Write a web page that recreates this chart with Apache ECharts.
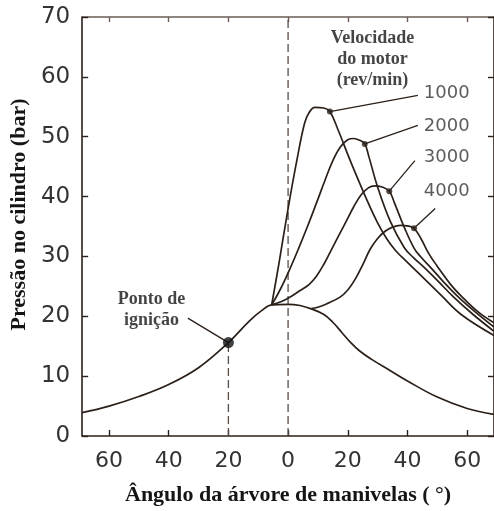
<!DOCTYPE html>
<html>
<head>
<meta charset="utf-8">
<script src="https://cdn.jsdelivr.net/npm/echarts@6/dist/echarts.min.js"></script>
<style>
  html, body { margin: 0; padding: 0; background: #ffffff; }
  #chart { width: 494px; height: 511px; }
</style>
</head>
<body>
<div id="chart"></div>
<script>
// Crank angle ticks (degrees, negative = before top dead centre)
const angleTicks = [-60, -40, -20, 0, 20, 40, 60];

// Motored cylinder pressure (no combustion), [crank angle, bar]
const motoringCurve = [
  [-69, 3.9], [-60, 5.0], [-50, 6.6], [-40, 8.6], [-30, 11.4], [-20, 15.6],
  [-13, 19.2], [-9, 20.9], [-5.5, 21.9], [0, 22.0], [4, 21.8], [8, 21.2],
  [12, 20.3], [15, 19.0], [18, 17.3], [21, 15.6], [24, 14.2], [28, 12.8],
  [34, 11.0], [40, 9.2], [50, 6.5], [60, 4.6], [69, 3.6]
];

// Firing pressure for each engine speed
const curve1000 = [
  [-5.5, 21.9], [-3, 29.0], [0, 38.0], [3, 46.2], [5.5, 52.2], [7, 54.0],
  [9, 54.9], [12, 54.8], [14, 54.2], [16.7, 51.2], [21, 45.8], [26.7, 39.1],
  [30, 35.6], [33, 33.0], [36, 31.0], [40, 29.0], [45, 26.6], [51.5, 23.4],
  [58, 20.3], [69, 16.8]
];
const curve2000 = [
  [-5.5, 21.9], [-2.5, 24.6], [0.5, 27.8], [3.5, 31.3], [6.5, 35.0], [9.5, 38.9],
  [12.5, 42.9], [15, 46.0], [17.5, 48.3], [20, 49.5], [22, 49.7], [24, 49.4],
  [25.7, 48.8], [27, 46.8], [30, 41.6], [34.3, 35.8], [38.9, 31.5], [42, 29.8],
  [45.5, 28.2], [50, 26.0], [55.5, 23.2], [62, 20.3], [69, 17.5]
];
const curve3000 = [
  [-5.5, 21.9], [-2, 22.5], [1, 23.3], [4, 24.3], [7, 25.3], [9.5, 26.7],
  [12, 28.7], [14.5, 31.1], [17, 33.5], [19.5, 35.9], [22, 38.3], [24.5, 40.3],
  [27, 41.5], [29, 41.8], [31.5, 41.6], [33.9, 40.9], [35.6, 39.0], [38.9, 34.9],
  [42.2, 31.4], [44.5, 29.9], [47.5, 28.3], [52, 25.8], [57.1, 23.2], [63, 20.6],
  [69, 18.2]
];
const curve4000 = [
  [7.8, 21.3], [10.5, 21.6], [13.4, 22.2], [17.4, 23.2], [20, 24.4], [22.5, 26.2],
  [25, 28.6], [27.5, 31.2], [30, 33.0], [32.5, 34.2], [35, 34.9], [37.6, 35.2],
  [40, 35.1], [42.2, 34.7], [44.5, 33.0], [47, 30.6], [49.8, 28.5], [55, 25.0],
  [58.8, 23.0], [64, 20.6], [69, 18.9]
];

const speedLabels = ['1000', '2000', '3000', '4000'];
const speedCurves = [curve1000, curve2000, curve3000, curve4000];
// crank angle where each callout touches its curve
const dotAngles = [14, 25.7, 33.9, 42.2];

const ignitionAngle = -20;
const ignitionPressure = 15.6;
const topDeadCentre = 0;
const pressureMax = 70;

// Callout placement, in axis units
const numberAnchors = [[45.5, 57.2], [45.5, 51.7], [45.5, 46.6], [45.5, 40.8]];
const leaderEnds = [[43.5, 56.9], [43.5, 51.9], [42.5, 46.0], [49.3, 38.0]];
const speedTitleAnchor = [28.3, 62.9];
const ignitionTextAnchor = [-45.8, 21.1];
const ignitionLeaderEnd = [-33.6, 19.7];

const INK = '#2b2019';
const DASH = '#5b4c42';
const NUM = '#333333';
const SERIF = '"Liberation Serif", "Times New Roman", serif';
const SANS = '"DejaVu Sans", sans-serif';

function pointAt(curve, angle) {
  return curve.find(p => p[0] === angle);
}

const curveStyle = { color: INK, width: 1.7 };

const series = [];

series.push({
  type: 'line', data: motoringCurve, smooth: 0.4, symbol: 'none',
  lineStyle: curveStyle, z: 3
});
speedCurves.forEach(c => {
  series.push({
    type: 'line', data: c, smooth: 0.4, symbol: 'none',
    lineStyle: curveStyle, z: 3
  });
});

// dashed verticals: top dead centre and ignition
series.push({
  type: 'line', data: [[topDeadCentre, 0], [topDeadCentre, pressureMax]],
  symbol: 'none', lineStyle: { color: DASH, width: 1.3, type: [8, 4] }, z: 2
});
series.push({
  type: 'line', data: [[ignitionAngle, 0], [ignitionAngle, ignitionPressure]],
  symbol: 'none', lineStyle: { color: DASH, width: 1.3, type: [8, 4] }, z: 2
});

// leader lines from each curve to its speed label
const dotPoints = speedCurves.map((c, i) => pointAt(c, dotAngles[i]));
dotPoints.forEach((p, i) => {
  series.push({
    type: 'line', data: [p, leaderEnds[i]], symbol: 'none',
    lineStyle: { color: INK, width: 1.3 }, z: 3
  });
});
series.push({
  type: 'line', data: [[ignitionAngle, ignitionPressure], ignitionLeaderEnd], symbol: 'none',
  lineStyle: { color: INK, width: 1.3 }, z: 3
});

// dots
series.push({
  type: 'scatter', data: dotPoints, symbolSize: 6,
  itemStyle: { color: INK }, z: 5
});
series.push({
  type: 'scatter', data: [[ignitionAngle, ignitionPressure]], symbolSize: 11,
  itemStyle: { color: '#111111' }, z: 5
});

// text callouts
series.push({
  type: 'scatter', symbolSize: 0, z: 6,
  data: speedLabels.map((s, i) => ({ value: numberAnchors[i], name: s })),
  label: {
    show: true, position: 'right', distance: 0, formatter: '{b}',
    fontFamily: SANS, fontSize: 18, color: NUM
  }
});
series.push({
  type: 'scatter', symbolSize: 0, z: 6,
  data: [
    { value: speedTitleAnchor, name: 'Velocidade\ndo motor\n(rev/min)' },
    { value: ignitionTextAnchor, name: 'Ponto de\nignição' }
  ],
  label: {
    show: true, position: 'inside', formatter: '{b}', align: 'center',
    fontFamily: SERIF, fontWeight: 'bold', fontSize: 18, lineHeight: 21, color: '#151515'
  }
});

const option = {
  animation: false,
  backgroundColor: '#ffffff',
  grid: { left: 80, right: -3, top: 17, bottom: 72, containLabel: false },
  xAxis: [
    {
      type: 'value', position: 'bottom', min: -69, max: 69,
      axisLine: { show: true, onZero: false, lineStyle: { color: INK, width: 1.6 } },
      axisTick: { show: true, inside: true, length: 6, customValues: angleTicks,
        lineStyle: { color: INK, width: 1.4 } },
      axisLabel: { customValues: angleTicks, formatter: v => String(Math.abs(v)),
        fontFamily: SANS, fontSize: 22, color: NUM, margin: 14 },
      splitLine: { show: false },
      name: 'Ângulo da árvore de manivelas ( °)',
      nameLocation: 'middle', nameGap: 48,
      nameTextStyle: { fontFamily: SERIF, fontWeight: 'bold', fontSize: 22, color: '#151515' }
    },
    {
      type: 'value', position: 'top', min: -69, max: 69,
      axisLine: { show: true, onZero: false, lineStyle: { color: '#6b5d55', width: 1.6 } },
      axisTick: { show: true, inside: true, length: 5, customValues: angleTicks,
        lineStyle: { color: '#6b5d55', width: 1.4 } },
      axisLabel: { show: false },
      splitLine: { show: false }
    }
  ],
  yAxis: [
    {
      type: 'value', position: 'left', min: 0, max: pressureMax, interval: 10,
      axisLine: { show: true, onZero: false, lineStyle: { color: INK, width: 1.6 } },
      axisTick: { show: true, inside: true, length: 6, lineStyle: { color: INK, width: 1.4 } },
      axisLabel: { fontFamily: SANS, fontSize: 23, color: NUM, margin: 12 },
      splitLine: { show: false },
      name: 'Pressão no cilindro (bar)',
      nameLocation: 'middle', nameGap: 42, nameRotate: 90,
      nameTextStyle: { fontFamily: SERIF, fontWeight: 'bold', fontSize: 22, color: '#151515',
        padding: [0, 0, 0, 24] }
    },
    {
      type: 'value', position: 'right', min: 0, max: pressureMax, interval: 10,
      axisLine: { show: true, onZero: false, lineStyle: { color: INK, width: 1.6 } },
      axisTick: { show: true, inside: true, length: 6, lineStyle: { color: INK, width: 1.4 } },
      axisLabel: { show: false },
      splitLine: { show: false }
    }
  ],
  series: series
};

const chart = echarts.init(document.getElementById('chart'), null, { renderer: 'canvas' });
chart.setOption(option);
</script>
</body>
</html>
